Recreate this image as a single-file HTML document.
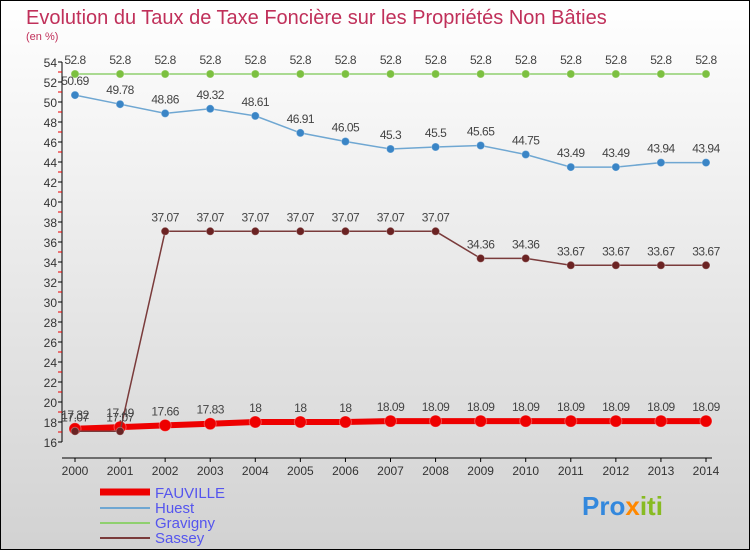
<!DOCTYPE html>
<html><head><meta charset="utf-8"><style>
body{margin:0;width:750px;height:550px;overflow:hidden;font-family:"Liberation Sans",sans-serif}
</style></head><body>
<svg width="750" height="550" xmlns="http://www.w3.org/2000/svg">
<defs><linearGradient id="bg" x1="0" y1="0" x2="0" y2="1"><stop offset="0" stop-color="#ffffff"/><stop offset="1" stop-color="#d2d2d2"/></linearGradient></defs>
<rect x="0.5" y="0.5" width="749" height="549" fill="url(#bg)" stroke="#000"/>
<text x="26" y="24" font-size="20" fill="#c0305a">Evolution du Taux de Taxe Foncière sur les Propriétés Non Bâties</text>
<text x="26" y="40" font-size="11" fill="#c0305a">(en %)</text>
<g id="axes"></g><g id="series"></g>
<g>
<line x1="100" y1="492" x2="150" y2="492" stroke="#ee0000" stroke-width="7"/>
<text x="155" y="498" font-size="15" fill="#5555ee">FAUVILLE</text>
<line x1="100" y1="508" x2="150" y2="508" stroke="#6fa7d2" stroke-width="2"/>
<text x="155" y="513" font-size="15" fill="#5555ee">Huest</text>
<line x1="100" y1="523" x2="150" y2="523" stroke="#8fd06f" stroke-width="2"/>
<text x="155" y="528" font-size="15" fill="#5555ee">Gravigny</text>
<line x1="100" y1="538" x2="150" y2="538" stroke="#7a3b3b" stroke-width="2"/>
<text x="155" y="543" font-size="15" fill="#5555ee">Sassey</text>
</g>
<text x="582" y="515" font-size="26" font-weight="bold" fill="#3388dd">Pro<tspan fill="#ff8800">x</tspan><tspan fill="#88bb22">iti</tspan></text>
</svg>
<script>
const years=[2000,2001,2002,2003,2004,2005,2006,2007,2008,2009,2010,2011,2012,2013,2014];
const fauville=[17.32,17.49,17.66,17.83,18,18,18,18.09,18.09,18.09,18.09,18.09,18.09,18.09,18.09];
const huest=[50.69,49.78,48.86,49.32,48.61,46.91,46.05,45.3,45.5,45.65,44.75,43.49,43.49,43.94,43.94];
const gravigny=[52.8,52.8,52.8,52.8,52.8,52.8,52.8,52.8,52.8,52.8,52.8,52.8,52.8,52.8,52.8];
const sassey=[17.07,17.07,37.07,37.07,37.07,37.07,37.07,37.07,37.07,34.36,34.36,33.67,33.67,33.67,33.67];
const yTicks=[16,18,20,22,24,26,28,30,32,34,36,38,40,42,44,46,48,50,52,54];
const NS="http://www.w3.org/2000/svg";
const xs=i=>75+i*(706-75)/(years.length-1);
const ys=v=>62+(54-v)*10;
function mk(p,t,a){const e=document.createElementNS(NS,t);for(const k in a)e.setAttribute(k,a[k]);p.appendChild(e);return e;}
const ax=document.getElementById('axes');
let l=mk(ax,'line',{x1:62,y1:ys(54),x2:62,y2:ys(16),stroke:'#000'});

l=mk(ax,'line',{x1:62,y1:458,x2:712,y2:458,stroke:'#000'});

yTicks.forEach(v=>{mk(ax,'line',{x1:58,y1:ys(v),x2:62,y2:ys(v),stroke:'#000'});
 if(v<54)mk(ax,'line',{x1:58,y1:ys(v+1),x2:62,y2:ys(v+1),stroke:'#e00'});
 const t=mk(ax,'text',{x:57,y:ys(v)+5,'font-size':12,'text-anchor':'end',fill:'#333'});t.textContent=v;
 });
years.forEach((y,i)=>{mk(ax,'line',{x1:xs(i),y1:458,x2:xs(i),y2:462,stroke:'#000'});
 const t=mk(ax,'text',{x:xs(i),y:475,'font-size':12,'text-anchor':'middle',fill:'#333'});t.textContent=y;
 });
const sg=document.getElementById('series');
function draw(name,vals,color,w,r,dot,lab){
 const g=mk(sg,'g',{});
 mk(g,'polyline',{points:vals.map((v,i)=>xs(i)+','+ys(v)).join(' '),fill:'none',stroke:color,'stroke-width':w});
 vals.forEach((v,i)=>{const c=mk(g,'circle',{cx:xs(i),cy:ys(v),r:r,fill:dot,stroke:'#fff','stroke-opacity':0.3});
  
  if(lab){const t=mk(g,'text',{x:xs(i),y:ys(v)-10,'font-size':12,'text-anchor':'middle',fill:'#444','letter-spacing':'-0.5'});t.textContent=v;
  }});
}
draw('gravigny',gravigny,'#8fd06f',1.5,4,'#7cc040',true);
draw('huest',huest,'#6fa7d2',1.5,4,'#3a85c6',true);
draw('fauville',fauville,'#ee0000',6,6,'#ee0000',true);
draw('sassey',sassey,'#7a3b3b',1.5,4,'#6b2323',true);
</script>
</body></html>
